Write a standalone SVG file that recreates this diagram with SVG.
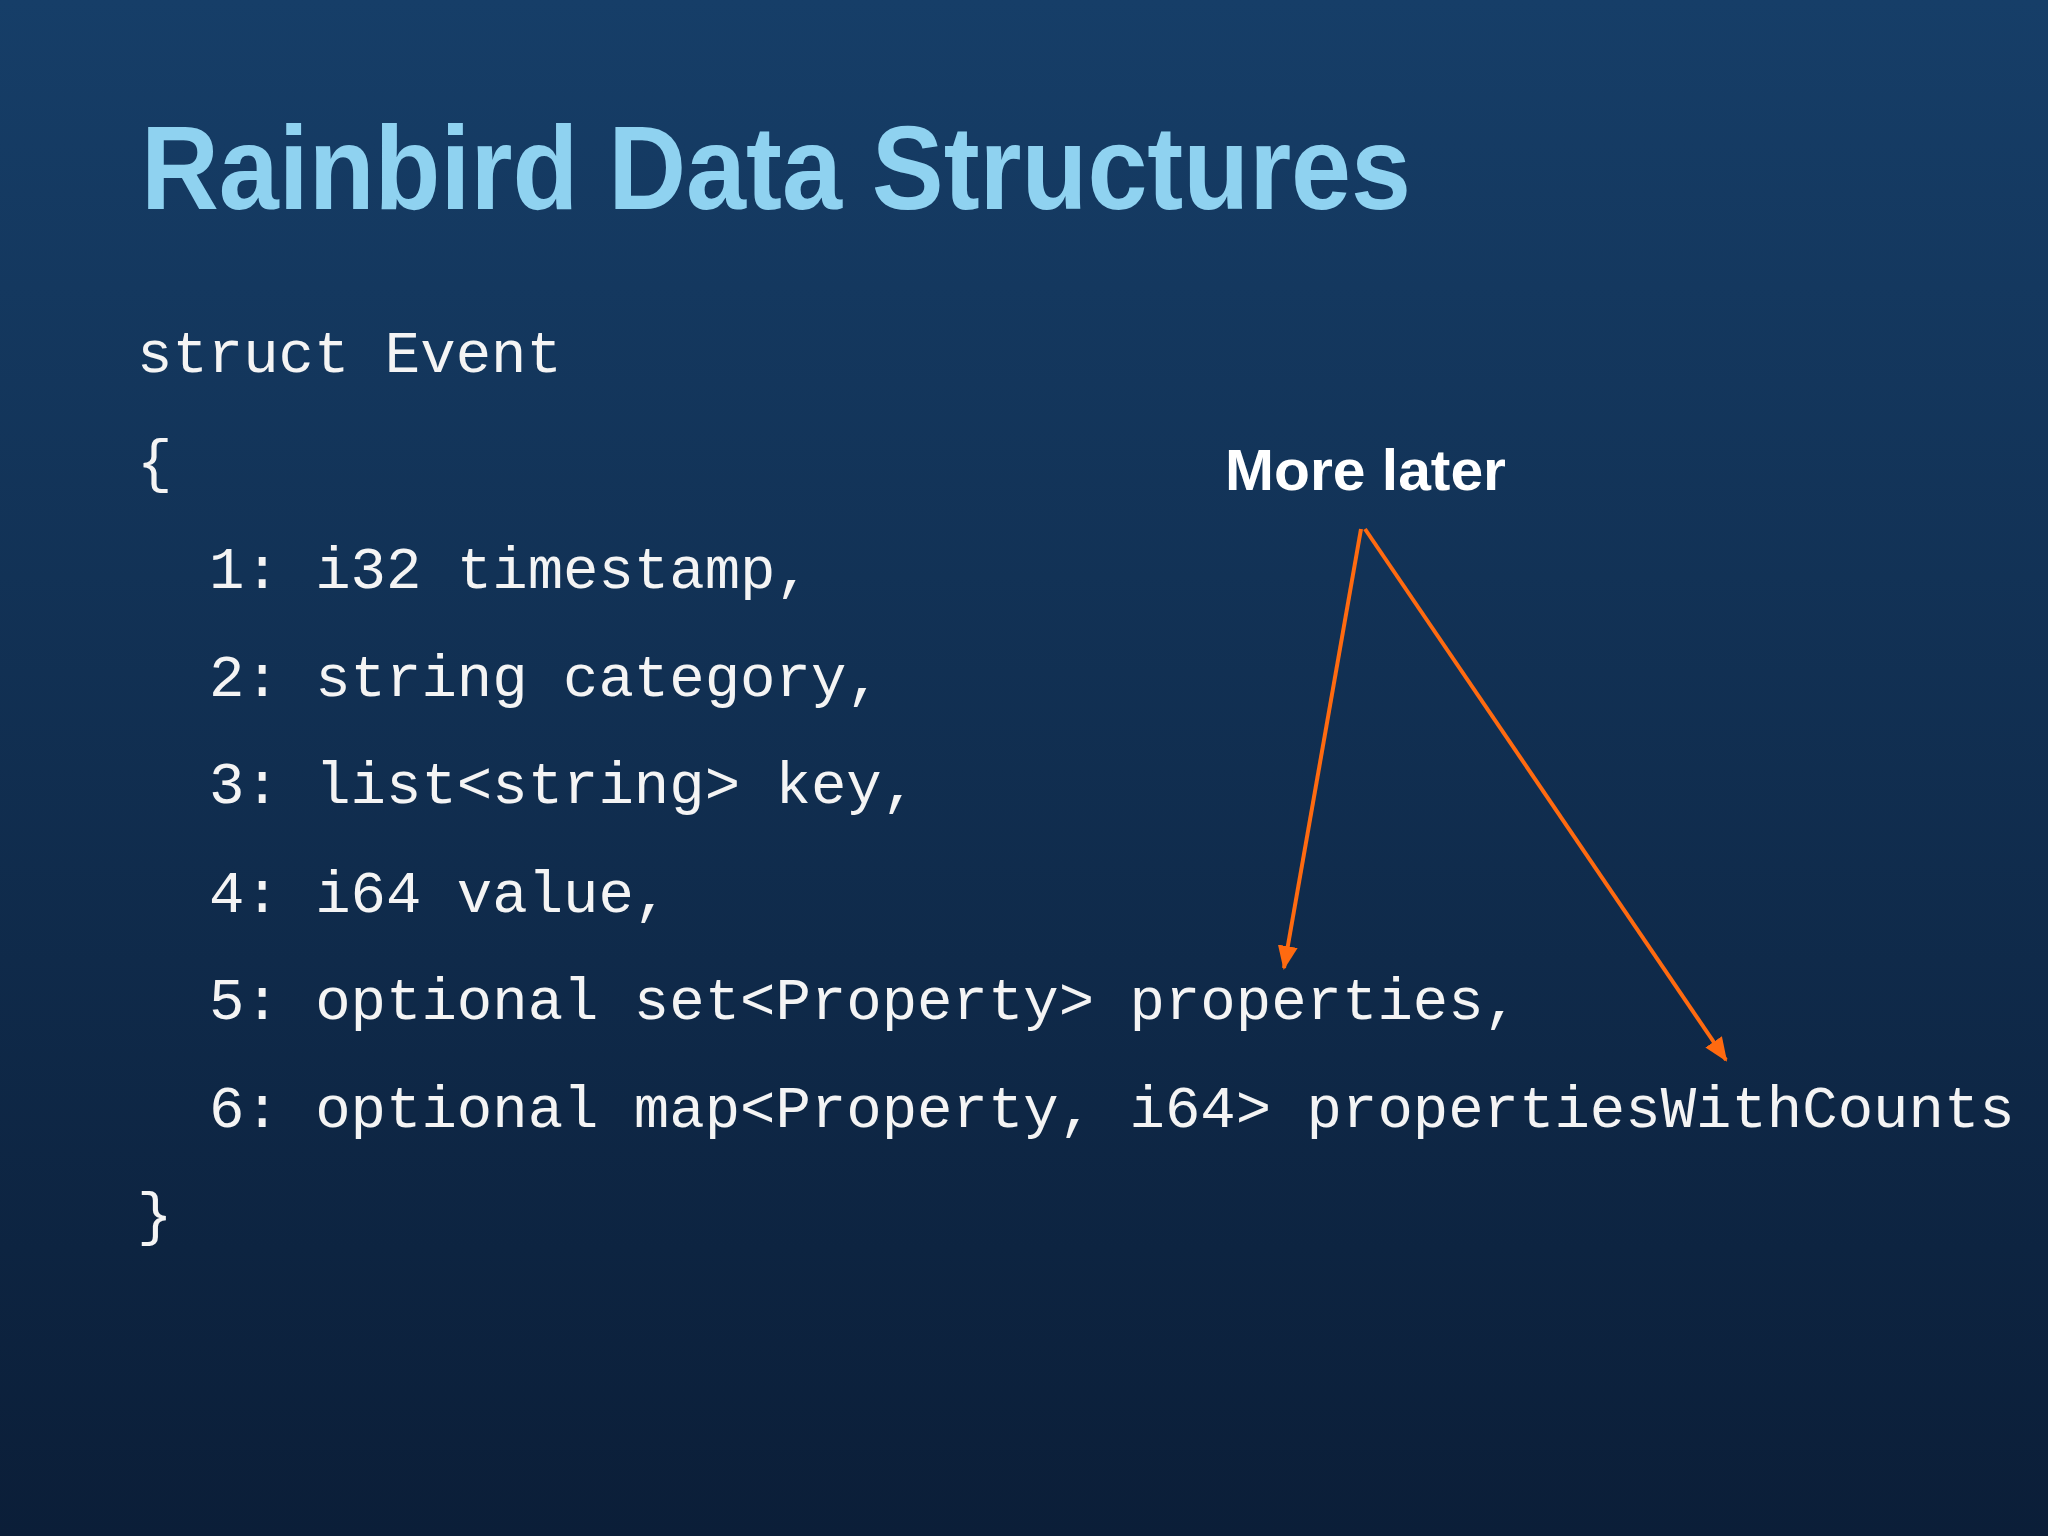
<svg xmlns="http://www.w3.org/2000/svg" width="2048" height="1536" viewBox="0 0 2048 1536">
<defs>
<linearGradient id="bg" x1="0" y1="0" x2="0" y2="1">
<stop offset="0" stop-color="#163e68"/>
<stop offset="1" stop-color="#0b1e38"/>
</linearGradient>
<marker id="ah" viewBox="0 0 24 24" refX="22" refY="12" markerWidth="24" markerHeight="24" orient="auto" markerUnits="userSpaceOnUse">
<path d="M0,2 L24,12 L0,22 Z" fill="#ff6a10"/>
</marker>
<style>
.code{font-family:"Liberation Mono","Courier New",monospace;font-size:59px;fill:#f4f4f4}
</style>
</defs>
<rect width="2048" height="1536" fill="url(#bg)"/>
<g id="title"><text x="141" y="209" font-family="Liberation Sans, Arial, sans-serif" font-weight="bold" font-size="118" fill="#8fd2f0" textLength="1270" lengthAdjust="spacingAndGlyphs">Rainbird Data Structures</text></g>
<g id="code">
<text class="code" x="137" y="372">struct Event</text>
<text class="code" x="137" y="481">{</text>
<text class="code" x="209" y="588">1: i32 timestamp,</text>
<text class="code" x="209" y="696">2: string category,</text>
<text class="code" x="209" y="803">3: list&lt;string&gt; key,</text>
<text class="code" x="209" y="912">4: i64 value,</text>
<text class="code" x="209" y="1019">5: optional set&lt;Property&gt; properties,</text>
<text class="code" x="209" y="1127">6: optional map&lt;Property, i64&gt; propertiesWithCounts</text>
<text class="code" x="137" y="1234">}</text>
</g>
<g id="note"><text x="1225" y="490" font-family="Liberation Sans, Arial, sans-serif" font-weight="bold" font-size="58" fill="#ffffff" textLength="281" lengthAdjust="spacingAndGlyphs">More later</text></g>
<g id="connectors" stroke="#ff6a10" stroke-width="4" fill="none">
<line x1="1361" y1="529" x2="1284" y2="968" marker-end="url(#ah)"/>
<line x1="1365" y1="529" x2="1726" y2="1060" marker-end="url(#ah)"/>
</g>
</svg>
